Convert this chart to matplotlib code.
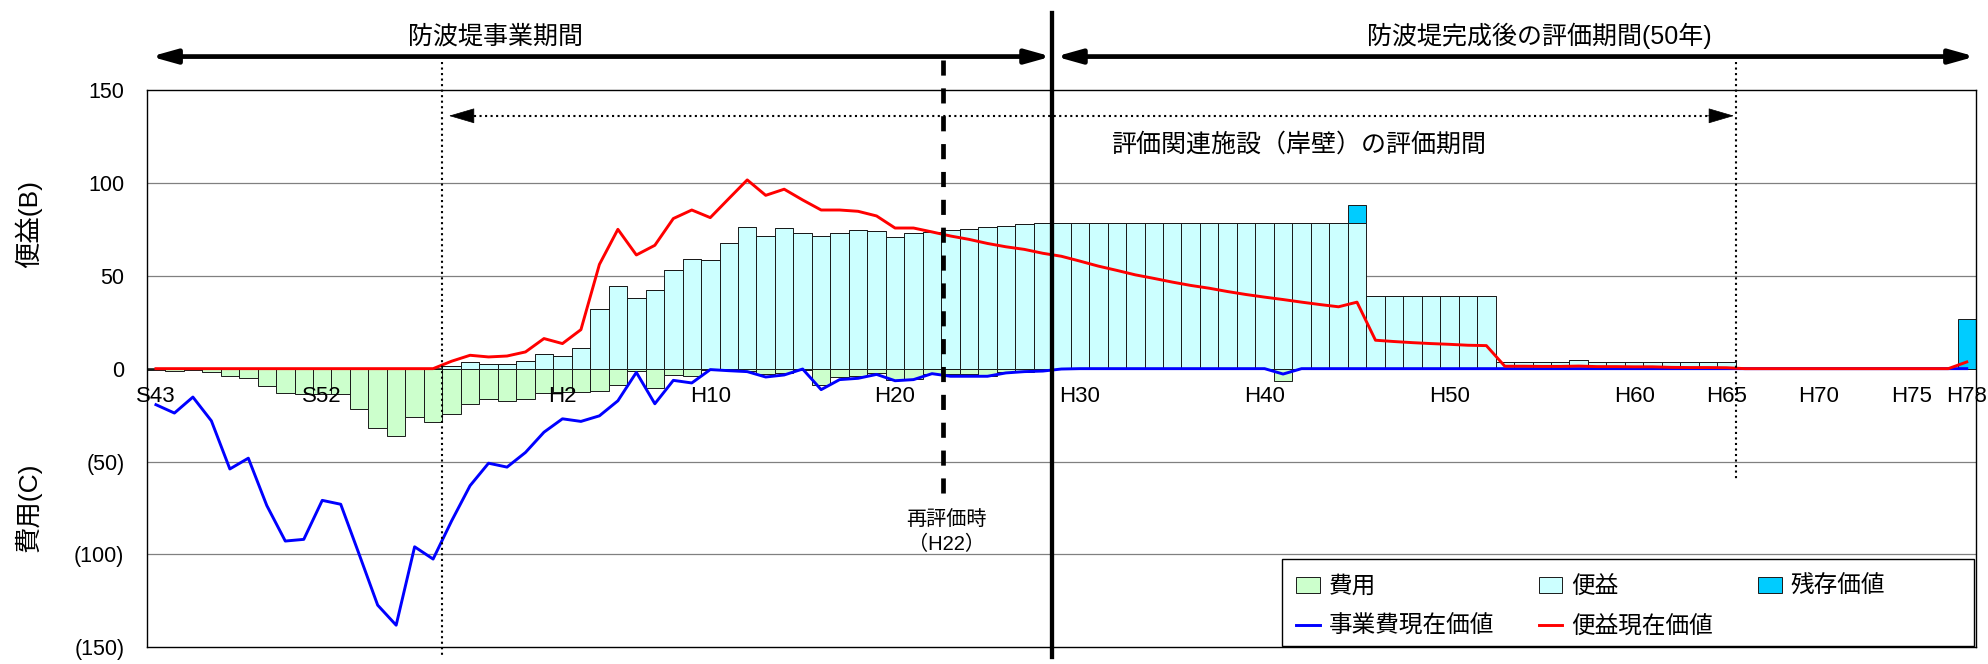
import matplotlib
matplotlib.use('Agg')
import matplotlib.pyplot as plt
from matplotlib.patches import Rectangle

plt.rcParams['font.family'] = ['Liberation Sans', 'Noto Sans CJK JP']

# one bar per fiscal year, S43 (1968) ... H78 (2066)
years = list(range(1968, 2067))
tick_pos = [0, 9, 22, 30, 40, 50, 60, 70, 80, 85, 90, 95, 98]
tick_labels = ['S43', 'S52', 'H2', 'H10', 'H20', 'H30', 'H40', 'H50', 'H60', 'H65', 'H70', 'H75', 'H78']

# 費用 (cost, shown negative)
cost = [-0.7, -1.4, -0.5, -2.0, -3.8, -5.0, -9.5, -13.1, -13.8, -13.8,
        -13.8, -21.6, -31.7, -36.5, -26.1, -28.8, -24.3, -18.9, -16.2, -17.4,
        -16.2, -13.1, -12.6, -12.8, -11.9, -8.6, -1.4, -10.4, -3.2, -4.1,
        -0.5, -0.9, -1.4, -2.7, -2.3, -0.5, -8.6, -4.5, -4.1, -2.3,
        -6.3, -5.6, -2.7, -3.0, -3.0, -4.1, -2.0, -1.6, -0.9, 0,
        0, 0, 0, 0, 0, 0, 0, 0, 0, 0,
        0, -6.8, 0, 0, 0, 0, 0, 0, 0, 0,
        0, 0, 0, 0, 0, 0, 0, 0, 0, 0,
        0, 0, 0, 0, 0, 0, 0, 0, 0, 0,
        0, 0, 0, 0, 0, 0, 0, 0, 0]

# 便益 (benefit)
benefit = [0, 0, 0, 0, 0, 0, 0, 0, 0, 0,
           0, 0, 0, 0, 0, 0, 1.6, 3.4, 2.7, 2.7,
           4.3, 7.9, 6.8, 11.2, 32.2, 44.6, 37.8, 42.3, 53.2, 59.2,
           58.6, 67.4, 76.4, 71.4, 75.7, 73.2, 71.4, 73.2, 74.5, 74.3,
           71.0, 73.2, 73.6, 74.5, 75.4, 76.4, 77.0, 78.1, 78.6, 78.6,
           78.6, 78.6, 78.6, 78.6, 78.6, 78.6, 78.6, 78.6, 78.6, 78.6,
           78.6, 78.6, 78.6, 78.6, 78.6, 78.6, 39.0, 39.0, 39.0, 39.0,
           39.0, 39.0, 39.0, 3.6, 3.6, 3.6, 3.6, 4.7, 3.6, 3.6,
           3.6, 3.6, 3.6, 3.6, 3.6, 3.6, 0, 0, 0, 0,
           0, 0, 0, 0, 0, 0, 0, 0, 0]

# 残存価値 (residual value)
residual = [0, 0, 0, 0, 0, 0, 0, 0, 0, 0,
            0, 0, 0, 0, 0, 0, 0, 0, 0, 0,
            0, 0, 0, 0, 0, 0, 0, 0, 0, 0,
            0, 0, 0, 0, 0, 0, 0, 0, 0, 0,
            0, 0, 0, 0, 0, 0, 0, 0, 0, 0,
            0, 0, 0, 0, 0, 0, 0, 0, 0, 0,
            0, 0, 0, 0, 0, 9.4, 0, 0, 0, 0,
            0, 0, 0, 0, 0, 0, 0, 0, 0, 0,
            0, 0, 0, 0, 0, 0, 0, 0, 0, 0,
            0, 0, 0, 0, 0, 0, 0, 0, 26.8]

# 事業費現在価値 (present value of cost)
cost_pv = [-19.4, -23.9, -15.3, -28.1, -54.0, -48.2, -73.7, -92.8, -91.9, -70.9,
           -73.0, -100.0, -127.3, -138.1, -95.9, -102.5, -82.0, -63.0, -50.9, -53.0,
           -45.1, -34.2, -27.0, -28.4, -25.4, -17.3, -2.0, -18.9, -6.3, -7.7,
           -0.5, -1.1, -1.6, -4.5, -3.4, -0.2, -11.3, -5.9, -5.2, -3.1,
           -6.5, -5.9, -2.7, -4.1, -4.1, -4.1, -2.3, -1.6, -1.3, -0.2,
           0, 0, 0, 0, 0, 0, 0, 0, 0, 0,
           0, -2.9, 0, 0, 0, 0, 0, 0, 0, 0,
           0, 0, 0, 0, 0, 0, 0, 0, 0, 0,
           0, 0, 0, 0, 0, 0, 0, 0, 0, 0,
           0, 0, 0, 0, 0, 0, 0, 0, 0]

# 便益現在価値 (present value of benefit)
benefit_pv = [0, 0, 0, 0, 0, 0, 0, 0, 0, 0,
              0, 0, 0, 0, 0, 0, 4.0, 7.2, 6.3, 6.8,
              9.0, 16.2, 13.5, 21.0, 56.1, 75.0, 61.2, 66.4, 80.8, 85.4,
              81.3, 91.5, 101.6, 93.3, 96.6, 90.8, 85.4, 85.4, 84.7, 82.2,
              75.7, 75.7, 73.6, 71.4, 69.6, 67.4, 65.6, 64.2, 62.1, 60.5,
              57.9, 55.2, 52.9, 50.5, 48.6, 46.6, 44.8, 43.3, 41.5, 39.9,
              38.5, 37.2, 35.8, 34.5, 33.3, 35.8, 15.3, 14.6, 14.0, 13.5,
              13.1, 12.6, 12.4, 1.3, 1.3, 1.2, 1.2, 1.4, 1.1, 1.1,
              1.0, 1.0, 0.7, 0.6, 0.6, 0.5, 0, 0, 0, 0,
              0, 0, 0, 0, 0, 0, 0, 0, 3.6]

W, H = 1988, 664
x = list(range(len(years)))

fig = plt.figure(figsize=(W / 100, H / 100), dpi=100)
ax = fig.add_axes([146.7 / W, 1 - 647.3 / H, (1976 - 146.7) / W, (647.3 - 90) / H])

# grid
for g in [-100, -50, 50, 100]:
    ax.axhline(g, color='#808080', lw=0.9, zorder=0.5)
ax.axhline(0, color='#303030', lw=1.3, zorder=0.6)

b_cost = ax.bar(x, cost, width=1.0, color='#CCFFCC', edgecolor='#1a1a1a', lw=0.7, zorder=1)
b_ben = ax.bar(x, benefit, width=1.0, color='#CCFFFF', edgecolor='#1a1a1a', lw=0.7, zorder=1)
b_res = ax.bar(x, residual, width=1.0, bottom=benefit, color='#00CCFF', edgecolor='#1a1a1a', lw=0.7, zorder=1)
l_cost, = ax.plot(x, cost_pv, color='#0000FF', lw=2.1, zorder=3)
l_ben, = ax.plot(x, benefit_pv, color='#FF0000', lw=2.1, zorder=3)

ax.set_xlim(-0.5, 98.5)
ax.set_ylim(-150, 150)
ax.set_yticks([-150, -100, -50, 0, 50, 100, 150])
ax.set_yticklabels(['(150)', '(100)', '(50)', '0', '50', '100', '150'])
ax.set_xticks(tick_pos, tick_labels)
ax.tick_params(axis='y', length=0, pad=16, labelsize=15.5)
ax.tick_params(axis='x', length=0, pad=-188, labelsize=16)
for s in ax.spines.values():
    s.set_color('black')
    s.set_linewidth(1.0)

# period markers
ax.plot([48.5, 48.5], [191.7, -155], color='black', lw=3.1, clip_on=False, zorder=4)
ax.plot([15.5, 15.5], [165, -155], color='black', lw=1.5, ls=':', clip_on=False, zorder=4)
ax.plot([85.5, 85.5], [165, -60], color='black', lw=1.5, ls=':', clip_on=False, zorder=4)
ax.plot([42.6, 42.6], [166, -69], color='black', lw=3.4, dashes=(3.2, 2.7), clip_on=False, zorder=4)

big_head = '<|-|>,head_length=1.5,head_width=0.42'
ax.annotate('', xy=(48.45, 168), xytext=(-0.27, 168), annotation_clip=False,
            arrowprops=dict(arrowstyle=big_head, mutation_scale=10, lw=3.4, color='black',
                            shrinkA=0, shrinkB=0))
ax.annotate('', xy=(98.45, 168), xytext=(48.7, 168), annotation_clip=False,
            arrowprops=dict(arrowstyle=big_head, mutation_scale=10, lw=3.4, color='black',
                            shrinkA=0, shrinkB=0))

# dotted arrow for the wharf evaluation period
ax.plot([17.2, 84.1], [136.1, 136.1], color='black', lw=1.5, ls=':', clip_on=False, zorder=4)
small_head = '-|>,head_length=1.7,head_width=0.5'
for tip, tail in [(15.86, 17.3), (85.4, 83.95)]:
    ax.annotate('', xy=(tip, 136.1), xytext=(tail, 136.1), annotation_clip=False,
                arrowprops=dict(arrowstyle=small_head, mutation_scale=10, lw=0.5, color='black',
                                shrinkA=0, shrinkB=0))

ax.text(18.35, 179, '防波堤事業期間', fontsize=18, ha='center', va='center')
ax.text(74.85, 179, '防波堤完成後の評価期間(50年)', fontsize=18, ha='center', va='center')
ax.text(61.85, 120.6, '評価関連施設（岸壁）の評価期間', fontsize=18, ha='center', va='center')
ax.text(42.79, -81.3, '再評価時', fontsize=14.5, ha='center', va='center')
ax.text(42.79, -94.8, '（H22）', fontsize=14.5, ha='center', va='center')

fig.text(28 / W, 1 - 224 / H, '便益(B)', fontsize=19, rotation=90, ha='center', va='center')
fig.text(28 / W, 1 - 507 / H, '費用(C)', fontsize=19, rotation=90, ha='center', va='center')

# legend box
ax.add_patch(Rectangle((1282 / W, 1 - 646 / H), (1974 - 1282) / W, (646 - 559) / H,
                       transform=fig.transFigure, facecolor='white', edgecolor='black',
                       lw=1.0, clip_on=False, zorder=4.5))
leg = ax.legend([b_cost, l_cost, b_ben, l_ben, b_res],
                ['費用', '事業費現在価値', '便益', '便益現在価値', '残存価値'],
                ncol=3, loc='upper left', bbox_to_anchor=(1296 / W, 1 - 576 / H),
                bbox_transform=fig.transFigure, frameon=False, fontsize=17,
                borderpad=0, borderaxespad=0, handlelength=1.0, handleheight=0.65,
                handletextpad=0.38, columnspacing=1.9, labelspacing=0.73)
leg.set_zorder(5)

fig.savefig('out.png', dpi=100)
